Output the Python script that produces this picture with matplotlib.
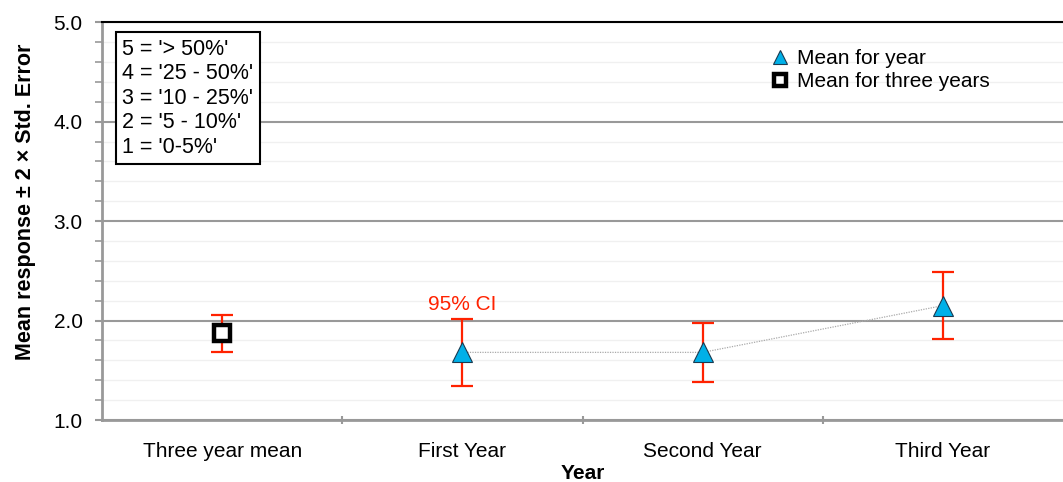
import matplotlib.pyplot as plt
import numpy as np
from matplotlib.ticker import MultipleLocator, FixedLocator

plt.rcParams['font.family'] = ['Liberation Sans', 'DejaVu Sans']

# data
categories = ['Three year mean', 'First Year', 'Second Year', 'Third Year']
overall_mean = 1.87
overall_lo = 1.68
overall_hi = 2.06
year_means = [1.68, 1.68, 2.15]
year_lo = [1.34, 1.38, 1.81]
year_hi = [2.02, 1.98, 2.49]
scale_text = "5 = '> 50%'\n4 = '25 - 50%'\n3 = '10 - 25%'\n2 = '5 - 10%'\n1 = '0-5%'"

FS = 15

fig = plt.figure(figsize=(10.63, 4.82), dpi=100)
ax = fig.add_axes([0.096, 0.1286, 0.904, 0.8254])

x = np.arange(len(categories))
ax.set_xlim(-0.5, len(categories) - 0.5)
ax.set_ylim(1.0, 5.0)

# grid
ax.yaxis.set_major_locator(MultipleLocator(1.0))
ax.yaxis.set_minor_locator(MultipleLocator(0.2))
ax.grid(True, which='minor', axis='y', color='#f0f0f0', lw=1.0)
ax.grid(True, which='major', axis='y', color='#999999', lw=1.5)
ax.set_axisbelow(True)

# three year mean
ax.errorbar([x[0]], [overall_mean],
            yerr=[[overall_mean - overall_lo], [overall_hi - overall_mean]],
            fmt='none', ecolor='#ff2200', elinewidth=1.6, capsize=8, capthick=1.6, zorder=3)
ax.plot([x[0]], [overall_mean], marker='s', ms=12, mfc='white', mec='black', mew=3.2,
        ls='none', zorder=4, label='Mean for three years')

# yearly means
yx = x[1:]
ym = np.array(year_means)
ax.plot(yx, ym, ls=(0, (1, 1)), color='#aaaaaa', lw=0.9, zorder=2)
ax.errorbar(yx, ym, yerr=[ym - np.array(year_lo), np.array(year_hi) - ym],
            fmt='none', ecolor='#ff2200', elinewidth=1.6, capsize=8, capthick=1.6, zorder=3)
ax.plot(yx, ym, marker='^', ms=15, mfc='#00b0e8', mec='#1a3a50', mew=0.8,
        ls='none', zorder=4, label='Mean for year')

ax.text(x[1], year_hi[0] + 0.05, '95% CI', color='#ff2200', fontsize=FS,
        ha='center', va='bottom')

# axes styling
ax.set_xticks(x)
ax.set_xticklabels(categories, fontsize=FS)
ax.xaxis.set_minor_locator(FixedLocator(x[:-1] + 0.5))
ax.tick_params(axis='x', which='major', length=0, pad=16)
ax.tick_params(axis='x', which='minor', length=6, width=1.5, color='#999999', direction='inout')
ax.set_yticklabels([f'{v:.1f}' for v in ax.get_yticks()], fontsize=FS)
ax.tick_params(axis='y', which='major', length=5, width=1.5, color='#999999', pad=9)
ax.tick_params(axis='y', which='minor', length=5, width=1.2, color='#999999')

for s in ['left', 'bottom']:
    ax.spines[s].set_color('#999999')
    ax.spines[s].set_linewidth(2)
ax.spines['top'].set_color('black')
ax.spines['top'].set_linewidth(1.5)
ax.spines['right'].set_visible(False)

ax.set_xlabel('Year', fontsize=FS, fontweight='bold', labelpad=2)
ax.set_ylabel('Mean response ± 2 × Std. Error', fontsize=15.5, fontweight='bold')
ax.yaxis.set_label_coords(-0.069, 0.548)

h, l = ax.get_legend_handles_labels()
ax.legend(h[::-1], l[::-1], loc='upper right', bbox_to_anchor=(0.943, 0.98), frameon=False,
          fontsize=FS, handlelength=0.8, handletextpad=0.4, labelspacing=0.2,
          markerscale=0.7)

ax.text(0.021, 0.958, scale_text, transform=ax.transAxes, fontsize=15.5, va='top', ha='left',
        linespacing=1.22,
        bbox=dict(boxstyle='square,pad=0.3', fc='white', ec='black', lw=1.5))

fig.savefig('out.png', dpi=100)
